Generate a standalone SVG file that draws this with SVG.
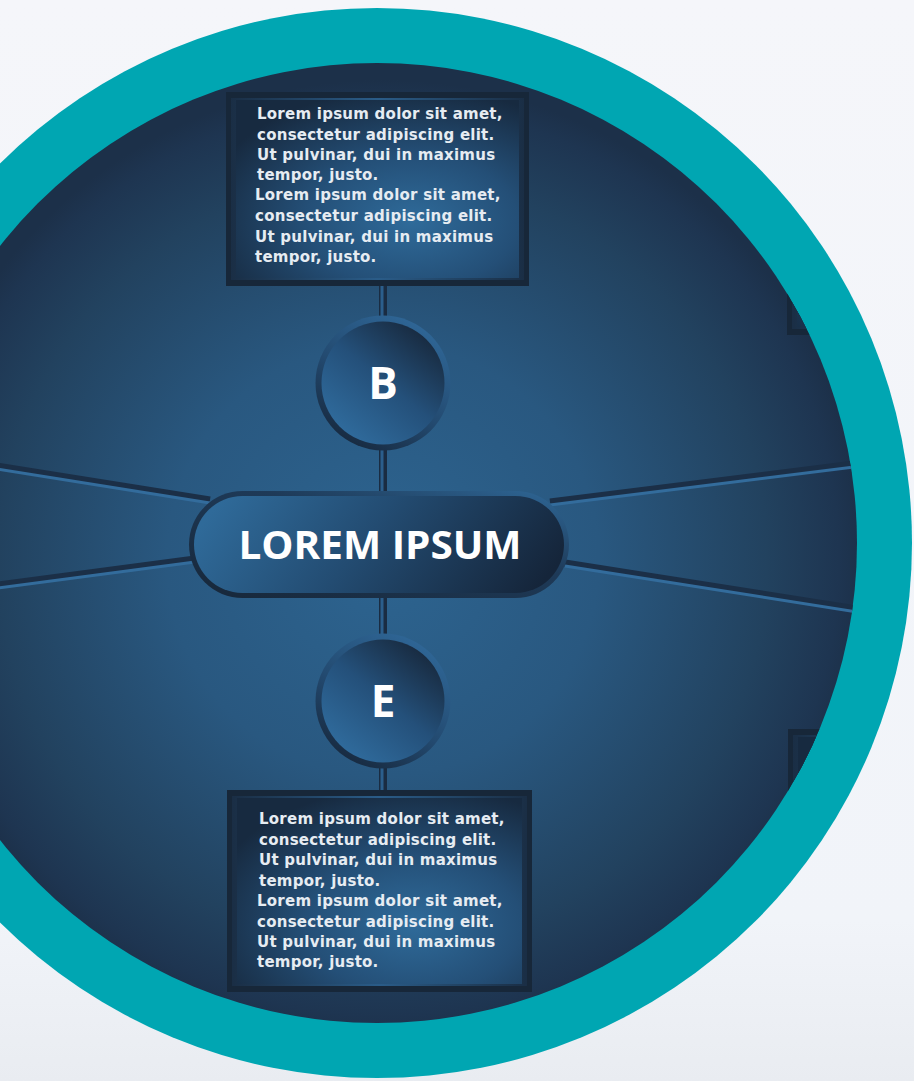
<svg xmlns="http://www.w3.org/2000/svg" width="914" height="1081" viewBox="0 0 914 1081">
<style>
.body{font-family:"DejaVu Sans","Verdana",sans-serif;font-weight:bold;font-size:15px;fill:#E6ECF2;letter-spacing:0.25px}
.letter{font-family:"Open Sans","Noto Sans",sans-serif;font-weight:700;font-size:44px;fill:#FFFFFF;text-anchor:middle}
.title{font-family:"Open Sans","Noto Sans",sans-serif;font-weight:700;font-size:40px;fill:#FFFFFF;text-anchor:middle}
.spokeDark{stroke:#1B2F47;stroke-width:7;fill:none}
.spokeLight{stroke:#336C9C;stroke-width:3;fill:none}
.vDark{stroke:#1A2C42;stroke-width:8;fill:none}
.vLight{stroke:#2B5E8C;stroke-width:3;fill:none}
.frame{fill:#172739}
</style>
<defs>
<linearGradient id="bg" x1="0" y1="0" x2="0" y2="1">
<stop offset="0" stop-color="#F5F6FA"/>
<stop offset="0.85" stop-color="#F1F4F9"/>
<stop offset="1" stop-color="#E9ECF1"/>
</linearGradient>
<radialGradient id="disc" cx="383" cy="560" r="480" gradientUnits="userSpaceOnUse">
<stop offset="0" stop-color="#2D6490"/>
<stop offset="0.45" stop-color="#295880"/>
<stop offset="0.8" stop-color="#22425F"/>
<stop offset="0.95" stop-color="#1E3551"/>
<stop offset="1" stop-color="#1C3049"/>
</radialGradient>
<radialGradient id="panel" cx="0.62" cy="0.68" r="0.75">
<stop offset="0" stop-color="#2F6B9A"/>
<stop offset="0.5" stop-color="#244F77"/>
<stop offset="1" stop-color="#172A40"/>
</radialGradient>
<linearGradient id="bevel" x1="0" y1="0" x2="1" y2="0">
<stop offset="0" stop-color="#1A2E45"/>
<stop offset="0.5" stop-color="#2A5C88"/>
<stop offset="1" stop-color="#1A2E45"/>
</linearGradient>
<linearGradient id="ring" x1="0.8" y1="0" x2="0.2" y2="1">
<stop offset="0" stop-color="#30699A"/>
<stop offset="0.55" stop-color="#234A70"/>
<stop offset="1" stop-color="#16263A"/>
</linearGradient>
<linearGradient id="ball" x1="0.85" y1="0.1" x2="0.2" y2="0.9">
<stop offset="0" stop-color="#182A3F"/>
<stop offset="0.5" stop-color="#24507A"/>
<stop offset="1" stop-color="#2F6A9B"/>
</linearGradient>
<linearGradient id="pill" x1="0" y1="0.4" x2="1" y2="0.6">
<stop offset="0" stop-color="#2F6A99"/>
<stop offset="0.45" stop-color="#234C72"/>
<stop offset="1" stop-color="#15253A"/>
</linearGradient>
<linearGradient id="pillRing" x1="0" y1="1" x2="1" y2="0">
<stop offset="0" stop-color="#172739"/>
<stop offset="0.6" stop-color="#1E3A58"/>
<stop offset="1" stop-color="#2F6898"/>
</linearGradient>
<clipPath id="discClip"><circle cx="377" cy="543" r="480"/></clipPath>
</defs>

<rect x="0" y="0" width="914" height="1081" fill="url(#bg)"/>
<circle id="outer-ring" cx="377" cy="543" r="535" fill="#00A6B2"/>
<circle id="disc" cx="377" cy="543" r="480" fill="url(#disc)"/>

<g id="connectors" clip-path="url(#discClip)">
<line class="spokeDark" x1="-10" y1="465" x2="210" y2="500"/>
<line class="spokeLight" x1="-10" y1="468" x2="210" y2="503"/>
<line class="spokeDark" x1="-10" y1="586" x2="195" y2="559"/>
<line class="spokeLight" x1="-10" y1="589" x2="195" y2="562"/>
<line class="spokeDark" x1="550" y1="502" x2="870" y2="462"/>
<line class="spokeLight" x1="550" y1="505" x2="870" y2="465"/>
<line class="spokeDark" x1="565" y1="563" x2="870" y2="611"/>
<line class="spokeLight" x1="565" y1="566" x2="870" y2="614"/>
<line class="vDark" x1="383" y1="284" x2="383" y2="320"/>
<line class="vLight" x1="382" y1="284" x2="382" y2="320"/>
<line class="vDark" x1="383" y1="446" x2="383" y2="494"/>
<line class="vLight" x1="382" y1="446" x2="382" y2="494"/>
<line class="vDark" x1="383" y1="596" x2="383" y2="638"/>
<line class="vLight" x1="382" y1="596" x2="382" y2="638"/>
<line class="vDark" x1="383" y1="764" x2="383" y2="792"/>
<line class="vLight" x1="382" y1="764" x2="382" y2="792"/>
</g>

<g id="box-right-top" clip-path="url(#discClip)">
<rect class="frame" x="787" y="141" width="303" height="194"/>
<rect x="792" y="147" width="290" height="182" fill="url(#bevel)"/>
<rect x="797" y="149" width="280" height="178" fill="url(#panel)"/>
</g>
<g id="box-right-bottom" clip-path="url(#discClip)">
<rect class="frame" x="788" y="729" width="303" height="200"/>
<rect x="793" y="735" width="290" height="188" fill="url(#bevel)"/>
<rect x="798" y="737" width="280" height="184" fill="url(#panel)"/>
</g>

<g id="box-top">
<rect class="frame" x="226" y="92" width="303" height="194"/>
<rect x="231" y="98" width="293" height="182" fill="url(#bevel)"/>
<rect x="236" y="100" width="283" height="178" fill="url(#panel)"/>
<text class="body" x="257" y="119">Lorem ipsum dolor sit amet,</text>
<text class="body" x="257" y="140">consectetur adipiscing elit.</text>
<text class="body" x="257" y="160">Ut pulvinar, dui in maximus</text>
<text class="body" x="257" y="180">tempor, justo.</text>
<text class="body" x="255" y="200">Lorem ipsum dolor sit amet,</text>
<text class="body" x="255" y="221">consectetur adipiscing elit.</text>
<text class="body" x="255" y="242">Ut pulvinar, dui in maximus</text>
<text class="body" x="255" y="262">tempor, justo.</text>
</g>

<g id="node-b">
<circle cx="383" cy="383" r="67.5" fill="url(#ring)"/>
<circle cx="383" cy="383" r="61.5" fill="url(#ball)"/>
<text class="letter" x="383" y="399">B</text>
</g>

<g id="center">
<rect x="189" y="491" width="380" height="107" rx="53.5" fill="url(#pillRing)"/>
<rect x="194" y="496" width="370" height="97" rx="48.5" fill="url(#pill)"/>
<text class="title" x="380" y="559" textLength="283" lengthAdjust="spacingAndGlyphs">LOREM IPSUM</text>
</g>

<g id="node-e">
<circle cx="383" cy="701" r="67.5" fill="url(#ring)"/>
<circle cx="383" cy="701" r="61.5" fill="url(#ball)"/>
<text class="letter" x="383" y="717">E</text>
</g>

<g id="box-bottom">
<rect class="frame" x="227" y="790" width="305" height="202"/>
<rect x="232" y="796" width="295" height="190" fill="url(#bevel)"/>
<rect x="237" y="798" width="285" height="186" fill="url(#panel)"/>
<text class="body" x="259" y="824">Lorem ipsum dolor sit amet,</text>
<text class="body" x="259" y="845">consectetur adipiscing elit.</text>
<text class="body" x="259" y="865">Ut pulvinar, dui in maximus</text>
<text class="body" x="259" y="886">tempor, justo.</text>
<text class="body" x="257" y="906">Lorem ipsum dolor sit amet,</text>
<text class="body" x="257" y="927">consectetur adipiscing elit.</text>
<text class="body" x="257" y="947">Ut pulvinar, dui in maximus</text>
<text class="body" x="257" y="967">tempor, justo.</text>
</g>
</svg>
